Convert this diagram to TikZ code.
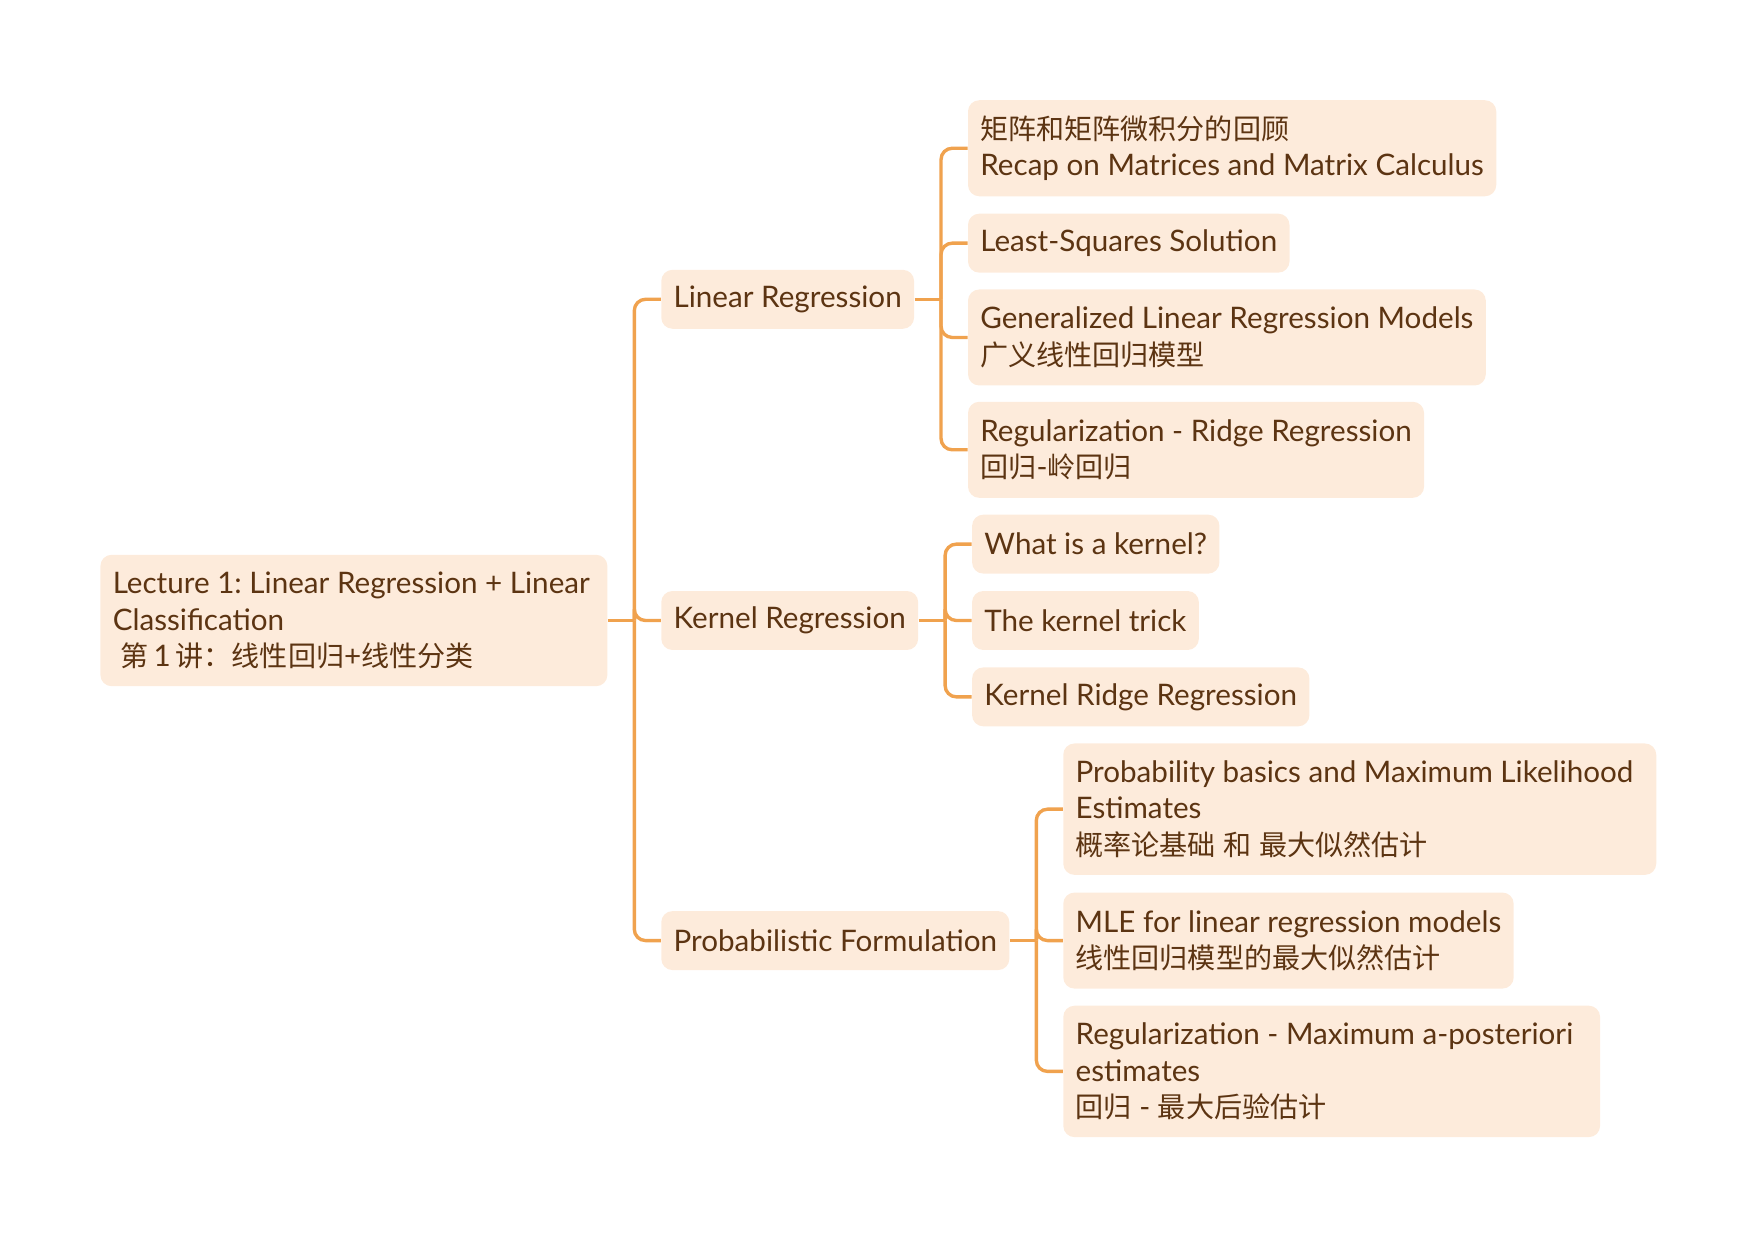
\documentclass[tikz,border=0pt]{standalone}
\usepackage{fontspec}
\setmainfont{Lato}[Scale=1.055]
\newfontfamily\cjk{Noto Sans CJK SC}
\usepackage{tikz}
\usetikzlibrary{positioning}
\definecolor{topicfill}{HTML}{FDEBDB}
\definecolor{topictext}{HTML}{5C3412}
\definecolor{linkcolor}{HTML}{F0A24E}

\tikzset{
  topic/.style={fill=topicfill, text=topictext, rounded corners=5pt, inner xsep=5.5pt, inner ysep=0pt,
    align=flush left, font=\fontsize{12.5}{16.25}\selectfont\frenchspacing},
  one/.style={topic, minimum height=26.25pt},
  two/.style={topic, minimum height=42.75pt},
  three/.style={topic, minimum height=58.5pt},
  link/.style={draw=linkcolor, line width=1.5pt, rounded corners=5pt},
}

\begin{document}
\begin{tikzpicture}

  \useasboundingbox (0,0) rectangle (780pt,-548.5pt);

  % Define nodes
  \node[three, anchor=west, text width=214.7pt] (root) at (44.5pt,-276.25pt)
    {Lecture 1: Linear Regression + Linear\\ Classification\\ \hspace{3.5pt}{\cjk 第}\,1\,{\cjk 讲：线性回归}+{\cjk 线性分类}};

  \node[one, right=23.6pt of root, yshift=143pt] (lin) {Linear Regression};
  \node[one, right=23.6pt of root] (ker) {Kernel Regression};
  \node[one, right=23.6pt of root, yshift=-142.5pt] (prob) {Probabilistic Formulation};

  \node[two, right=23.6pt of lin, yshift=67.25pt] (recap) {{\cjk 矩阵和矩阵微积分的回顾}\\ Recap on Matrices and Matrix Calculus};
  \node[one, right=23.6pt of lin, yshift=25pt] (lsq) {Least-Squares Solution};
  \node[two, right=23.6pt of lin, yshift=-17pt] (glm) {Generalized Linear Regression Models\\ {\cjk 广义线性回归模型}};
  \node[two, right=23.6pt of lin, yshift=-67pt] (ridge) {Regularization - Ridge Regression\\ {\cjk 回归}-{\cjk 岭回归}};

  \node[one, right=23.6pt of ker, yshift=34pt] (what) {What is a kernel?};
  \node[one, right=23.6pt of ker] (trick) {The kernel trick};
  \node[one, right=23.6pt of ker, yshift=-34pt] (krr) {Kernel Ridge Regression};

  \node[three, right=23.6pt of prob, yshift=58.5pt, text width=253pt] (mle) {Probability basics and Maximum Likelihood\\ Estimates\\ {\cjk 概率论基础} {\cjk 和} {\cjk 最大似然估计}};
  \node[two, right=23.6pt of prob] (mlelin) {MLE for linear regression models\\ {\cjk 线性回归模型的最大似然估计}};
  \node[three, right=23.6pt of prob, yshift=-58.25pt, text width=228pt] (map) {Regularization - Maximum a-posteriori\\ estimates\\ {\cjk 回归} - {\cjk 最大后验估计}};

  % Connect the nodes
  \draw[link] (root.east) -- ++(11.8pt,0) coordinate (rootfork);
  \foreach \c in {lin,ker,prob}
    \draw[link] (rootfork) |- (\c.west);

  \draw[link] (lin.east) -- ++(11.8pt,0) coordinate (linfork);
  \foreach \c in {recap,lsq,glm,ridge}
    \draw[link] (linfork) |- (\c.west);

  \draw[link] (ker.east) -- ++(11.8pt,0) coordinate (kerfork);
  \foreach \c in {what,trick,krr}
    \draw[link] (kerfork) |- (\c.west);

  \draw[link] (prob.east) -- ++(11.8pt,0) coordinate (probfork);
  \foreach \c in {mle,mlelin,map}
    \draw[link] (probfork) |- (\c.west);

\end{tikzpicture}
\end{document}
